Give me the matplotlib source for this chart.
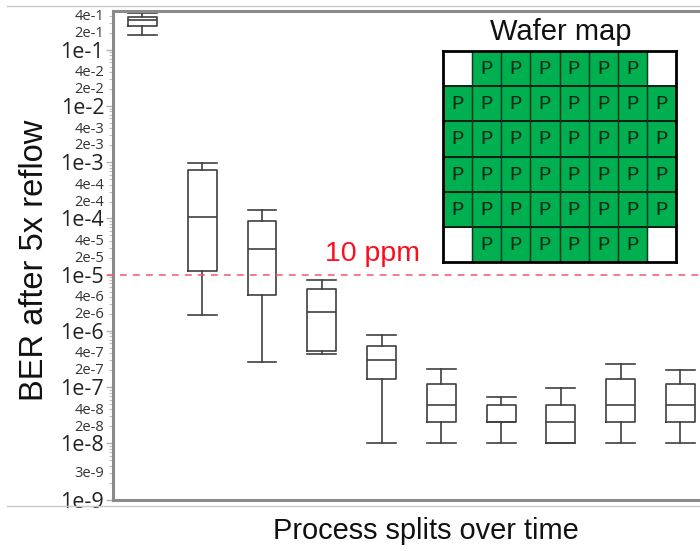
import matplotlib
matplotlib.use("Agg")
import matplotlib.pyplot as plt
from matplotlib.lines import Line2D

W, H = 700, 551
splits = list(range(1, 11))
whisker_high = [0.46, 9.8e-4, 1.44e-4, 8.1e-6, 8.5e-7, 2.1e-7, 6.7e-8, 9.8e-8, 2.6e-7, 2.05e-7]
q3_values = [0.39, 7.4e-4, 9.1e-5, 5.6e-6, 5.45e-7, 1.15e-7, 4.8e-8, 4.8e-8, 1.4e-7, 1.15e-7]
medians = [0.344, 1.08e-4, 2.9e-5, 2.2e-6, 3.07e-7, 4.8e-8, 2.4e-8, 2.4e-8, 4.8e-8, 4.8e-8]
q1_values = [0.27, 1.18e-5, 4.4e-6, 4.45e-7, 1.41e-7, 2.4e-8, 2.4e-8, 1e-8, 2.4e-8, 2.4e-8]
whisker_low = [0.186, 1.94e-6, 2.83e-7, 3.8e-7, 1e-8, 1e-8, 1e-8, 1e-8, 1e-8, 1e-8]
threshold = 1e-5

major_ticks = [1e-1, 1e-2, 1e-3, 1e-4, 1e-5, 1e-6, 1e-7, 1e-8, 1e-9]
major_labels = ["1e-1", "1e-2", "1e-3", "1e-4", "1e-5", "1e-6", "1e-7", "1e-8", "1e-9"]
small_ticks = [4e-1, 2e-1, 4e-2, 2e-2, 4e-3, 2e-3, 4e-4, 2e-4, 4e-5, 2e-5, 4e-6, 2e-6,
               4e-7, 2e-7, 4e-8, 2e-8, 3e-9]
small_labels = ["4e-1", "2e-1", "4e-2", "2e-2", "4e-3", "2e-3", "4e-4", "2e-4", "4e-5", "2e-5",
                "4e-6", "2e-6", "4e-7", "2e-7", "4e-8", "2e-8", "3e-9"]

wafer_rows = ["_PPPPPP_", "PPPPPPPP", "PPPPPPPP", "PPPPPPPP", "PPPPPPPP", "_PPPPPP_"]

fig = plt.figure(figsize=(W / 100, H / 100), dpi=100, facecolor="white")
plt.rcParams["font.family"] = ["Liberation Sans", "DejaVu Sans"]


def axes_px(x0, y0, x1, y1, **kw):
    return fig.add_axes([x0 / W, 1 - y1 / H, (x1 - x0) / W, (y1 - y0) / H], **kw)


ax = axes_px(112.5, 11, 700, 499.5)
ax.set_yscale("log")
ax.set_ylim(1e-9, 0.49)
ax.set_xlim(0.498, 10.33)

stats = [dict(med=m, q1=a, q3=b, whislo=l, whishi=h, fliers=[])
         for m, a, b, l, h in zip(medians, q1_values, q3_values, whisker_low, whisker_high)]
style = dict(color="#404040", linewidth=1.2)
ax.bxp(stats, positions=splits, widths=0.485, showfliers=False, manage_ticks=False,
       boxprops=style, medianprops=style, whiskerprops=style, capprops=style, capwidths=0.485)

ax.plot([-0.009, 1], [threshold, threshold], transform=ax.get_yaxis_transform(), clip_on=False,
        color="#f2566c", lw=1.1, dashes=(4.5, 4), zorder=3)
ax.text(373 / W, 1 - 254 / H, "10 ppm", transform=fig.transFigure, color="#fb0f1e", fontsize=20.5,
        ha="center", va="center")

for s in ["top", "left", "bottom", "right"]:
    ax.spines[s].set_color("#8a8a8a")
    ax.spines[s].set_linewidth(2.2)
ax.spines["right"].set_visible(False)

ax.set_xticks([])
ax.set_yticks(major_ticks, major_labels)
ax.tick_params(axis="y", which="major", length=5, width=1.0, color="#b0b0b0", labelsize=15.5,
               labelcolor="#222222", pad=1)
ax.yaxis.set_minor_locator(matplotlib.ticker.LogLocator(base=10, subs=range(2, 10), numticks=20))
ax.yaxis.set_minor_formatter(matplotlib.ticker.NullFormatter())
ax.tick_params(axis="y", which="minor", length=3, width=0.8, color="#c0c0c0")
for v, t in zip(small_ticks, small_labels):
    ax.annotate(t, xy=(0, v), xycoords=ax.get_yaxis_transform(), xytext=(-6, -0.5),
                textcoords="offset points", ha="right", va="center", fontsize=10.5,
                color="#333333", family="Open Sans", annotation_clip=False)
for lab in ax.get_yticklabels():
    lab.set_family("Open Sans")

fig.text(35 / W, 1 - 260 / H, "BER after 5x reflow", rotation=90, fontsize=23.5,
         ha="center", va="center", color="#111111")
fig.text(426 / W, 1 - 531 / H, "Process splits over time", fontsize=20.9,
         ha="center", va="center", color="#111111")
fig.text(560.5 / W, 1 - 32 / H, "Wafer map", fontsize=21, ha="center", va="center", color="#111111")

for yy in (5.5, 505.5):
    fig.add_artist(Line2D([7 / W, 1], [1 - yy / H, 1 - yy / H], color="#c8c8c8", lw=1.0))

# wafer map inset
wm = axes_px(443, 51, 676, 262)
wm.set_xlim(0, 8)
wm.set_ylim(6, 0)
wm.set_xticks([])
wm.set_yticks([])
for r, row in enumerate(wafer_rows):
    for c, cell in enumerate(row):
        if cell == "P":
            wm.fill_between([c, c + 1], r, r + 1, facecolor="#00AF50", edgecolor="#0a4a25", lw=0.8)
            wm.text(c + 0.5, r + 0.5, cell, ha="center", va="center", fontsize=15, color="#0d2a18",
                    family="Liberation Mono")
for s in wm.spines.values():
    s.set_linewidth(2.0)
    s.set_color("black")
    s.set_zorder(5)
for k in range(1, 6):
    wm.plot([0, 8], [k, k], color="#0b1f14", lw=1.4)
for k in range(1, 8):
    wm.plot([k, k], [0, 6], color="#0a3a20", lw=1.0)

fig.savefig("out.png", dpi=100)
